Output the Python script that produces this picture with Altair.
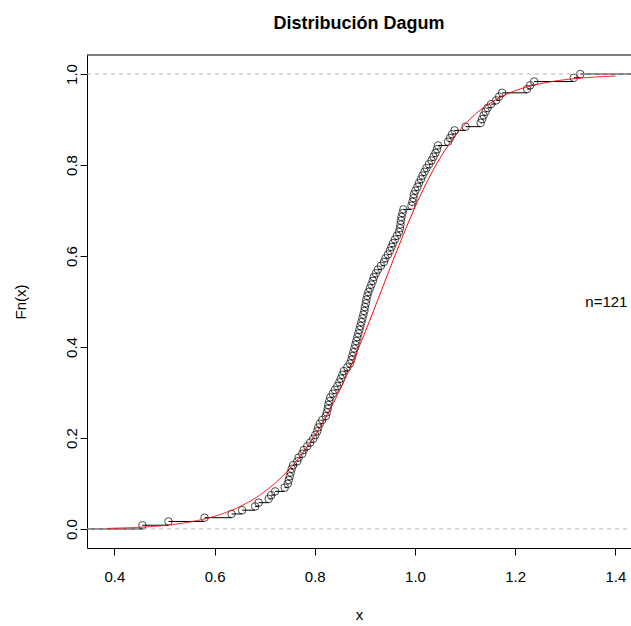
import altair as alt
import pandas as pd

# Sorted sample (n = 121) used for the empirical CDF
x_obs = [
    0.456, 0.508, 0.580, 0.634, 0.655, 0.681, 0.688, 0.708, 0.713, 0.721,
    0.740, 0.746, 0.748, 0.750, 0.752, 0.754, 0.757, 0.765, 0.768, 0.775,
    0.778, 0.785, 0.791, 0.797, 0.801, 0.805, 0.807, 0.810, 0.815, 0.822,
    0.824, 0.826, 0.827, 0.829, 0.831, 0.836, 0.840, 0.845, 0.849, 0.852,
    0.855, 0.858, 0.865, 0.870, 0.873, 0.875, 0.877, 0.879, 0.881, 0.883,
    0.885, 0.887, 0.889, 0.891, 0.893, 0.895, 0.897, 0.899, 0.900, 0.902,
    0.903, 0.905, 0.907, 0.910, 0.913, 0.916, 0.918, 0.922, 0.926, 0.932,
    0.938, 0.941, 0.946, 0.950, 0.953, 0.956, 0.960, 0.964, 0.968, 0.970,
    0.971, 0.972, 0.973, 0.975, 0.977, 0.993, 0.995, 0.997, 0.998, 1.001,
    1.005, 1.008, 1.012, 1.015, 1.019, 1.023, 1.028, 1.033, 1.037, 1.041,
    1.044, 1.046, 1.066, 1.070, 1.074, 1.079, 1.101, 1.131, 1.134, 1.137,
    1.141, 1.145, 1.152, 1.162, 1.168, 1.174, 1.224, 1.230, 1.238, 1.317,
    1.330,
]

# Fitted Dagum parameters (shape a, scale b, shape p)
dagum_a, dagum_b, dagum_p = 14.0, 1.0, 0.5

x_ticks = [0.4, 0.6, 0.8, 1.0, 1.2, 1.4]
y_ticks = [0.0, 0.2, 0.4, 0.6, 0.8, 1.0]

n = len(x_obs)
x_dom = [0.3454, 1.4312]
y_dom = [-0.0418, 1.0418]
curve_from, curve_to = 0.386, 1.4005

FONT = "Liberation Sans"
W, H = 544, 493

pts = pd.DataFrame({"x": x_obs, "F": [(i + 1) / n for i in range(n)]})

starts = [0.2] + x_obs
ends = x_obs + [1.7]
steps = pd.DataFrame({"x": starts, "x2": ends, "F": [i / n for i in range(n + 1)]})

xs = alt.Scale(domain=x_dom, nice=False, zero=False)
ys = alt.Scale(domain=y_dom, nice=False, zero=False)

x_axis = alt.Axis(values=x_ticks, format=".1f", title="x", grid=False,
                  domainColor="black", tickColor="black", tickSize=7,
                  labelFontSize=15, labelFont=FONT, labelColor="black",
                  labelPadding=14, titleFont=FONT, titleFontSize=15,
                  titleFontWeight="normal", titleColor="black",
                  titleBaseline="alphabetic", titleY=71)
y_axis = alt.Axis(values=y_ticks, format=".1f", title="Fn(x)", grid=False,
                  domainColor="black", tickColor="black", tickSize=7,
                  labelFontSize=15, labelFont=FONT, labelColor="black",
                  labelAngle=270, labelAlign="center", labelBaseline="alphabetic",
                  labelPadding=4, titleFont=FONT, titleFontSize=15,
                  titleFontWeight="normal", titleColor="black",
                  titleAngle=270, titleBaseline="middle", titleX=-67)

step_layer = alt.Chart(steps).mark_rule(color="black", strokeWidth=1, clip=True).encode(
    x=alt.X("x:Q", scale=xs, axis=x_axis),
    x2="x2:Q",
    y=alt.Y("F:Q", scale=ys, axis=y_axis),
)

point_layer = alt.Chart(pts).mark_point(
    shape="circle", filled=False, color="black", size=57, strokeWidth=1, clip=True
).encode(x=alt.X("x:Q", scale=xs), y=alt.Y("F:Q", scale=ys))

ref_lines = alt.Chart(pd.DataFrame({"F": [0.0, 1.0]})).mark_rule(
    color="#b3b3b3", strokeDash=[4, 4], strokeWidth=1
).encode(y=alt.Y("F:Q", scale=ys), x=alt.value(0), x2=alt.value(W))

curve = alt.Chart(alt.sequence(curve_from, curve_to, 0.002, as_="x")).transform_calculate(
    F=f"pow(1 + pow(datum.x / {dagum_b}, -{dagum_a}), -{dagum_p})"
).mark_line(color="red", strokeWidth=1, clip=True).encode(
    x=alt.X("x:Q", scale=xs), y=alt.Y("F:Q", scale=ys)
)

top_border = alt.Chart(pd.DataFrame({"k": [0]})).mark_rule(color="black", strokeWidth=1).encode(
    y=alt.value(0), x=alt.value(0), x2=alt.value(W)
)

label = alt.Chart(pd.DataFrame({"x": [1.382], "F": [0.5], "t": ["n=121"]})).mark_text(
    font=FONT, fontSize=15, color="black", align="center", baseline="middle"
).encode(x=alt.X("x:Q", scale=xs), y=alt.Y("F:Q", scale=ys), text="t:N")

chart = alt.layer(step_layer, point_layer, ref_lines, curve, top_border, label).properties(
    width=W, height=H,
    title=alt.TitleParams("Distribución Dagum", font=FONT, fontSize=18, fontWeight="bold",
                          color="black", anchor="middle", baseline="alphabetic", offset=8),
    autosize=alt.AutoSizeParams(type="none"),
    padding={"left": 87, "top": 55, "right": 0, "bottom": 78},
).configure_view(stroke=None).configure_axis(domainWidth=1, tickWidth=1)

chart.save("out.html", embed_options={"renderer": "svg", "actions": False})
